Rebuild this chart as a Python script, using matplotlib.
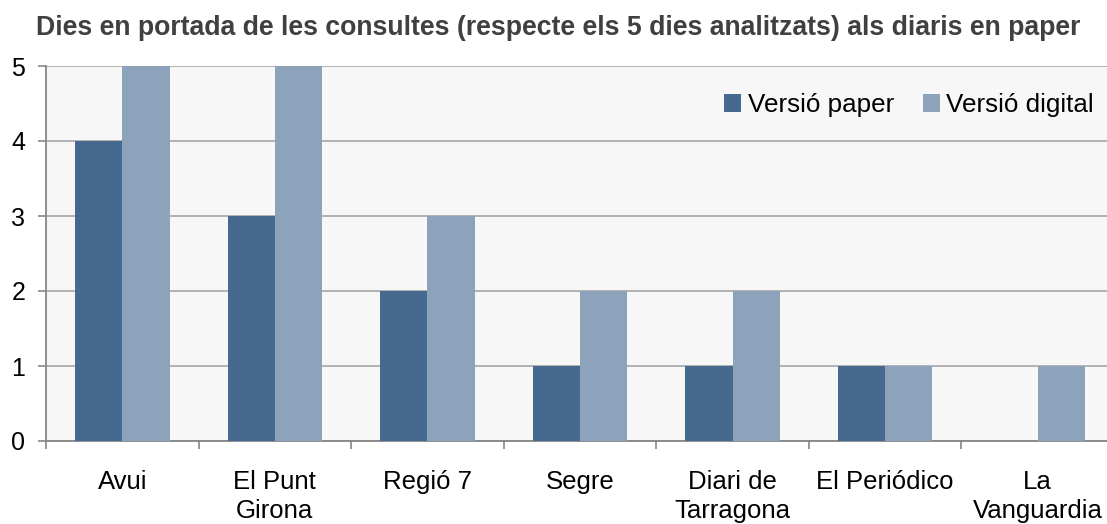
import matplotlib
matplotlib.use("Agg")
import matplotlib.pyplot as plt
import numpy as np

plt.rcParams['font.family'] = ['Liberation Sans', 'DejaVu Sans']

categories = ["Avui", "El Punt\nGirona", "Regió 7", "Segre", "Diari de\nTarragona", "El Periódico", "La\nVanguardia"]
paper = [4, 3, 2, 1, 1, 1, 0]
digital = [5, 5, 3, 2, 2, 1, 1]
series_names = ["Versió paper", "Versió digital"]
colors = ["#46698F", "#8DA2BB"]
title = "Dies en portada de les consultes (respecte els 5 dies analitzats) als diaris en paper"

W, H = 1107, 524
fig = plt.figure(figsize=(W/100, H/100), dpi=100)
left, right, top, bottom = 46, 1114, 66, 441
ax = fig.add_axes([left/W, 1-bottom/H, (right-left)/W, (bottom-top)/H])
ax.set_facecolor("#F7F7F7")

x = np.arange(len(categories))
bw = 0.31
ax.bar(x - bw/2, paper, bw, color=colors[0], label=series_names[0], zorder=3)
ax.bar(x + bw/2, digital, bw, color=colors[1], label=series_names[1], zorder=3)

ax.set_xlim(-0.5, len(categories) - 0.5)
ax.set_ylim(0, 5)
ax.set_yticks(range(6))
ax.yaxis.grid(True, color="#A6A6A6", linewidth=1.2, zorder=0)
ax.set_axisbelow(True)

ax.set_xticks(np.arange(len(categories) + 1) - 0.5)
ax.set_xticklabels([])
ax.set_xticks(x, minor=True)
ax.set_xticklabels(categories, minor=True, fontsize=18.5, linespacing=1.24, va="top")
ax.tick_params(axis="x", which="minor", length=0, pad=21)
ax.tick_params(axis="x", which="major", length=6, color="#868686", width=1.2)
ax.tick_params(axis="y", length=6, color="#868686", width=1.2, labelsize=18, pad=9)

for s in ["top", "right"]:
    ax.spines[s].set_visible(False)
for s in ["left", "bottom"]:
    ax.spines[s].set_color("#868686")
    ax.spines[s].set_linewidth(1.3)

fig.text(36/W, 1-28/H, title, ha="left", va="center",
         fontsize=19.2, fontweight="bold", color="#404040")

leg = ax.legend(loc="center right", bbox_to_anchor=(1094/W, 1-105/H), bbox_transform=fig.transFigure,
                ncol=2, frameon=False, fontsize=18.7, handlelength=0.66, handleheight=0.66,
                handletextpad=0.25, columnspacing=1.1, borderaxespad=0, borderpad=0)

fig.savefig("out.png", dpi=100)
